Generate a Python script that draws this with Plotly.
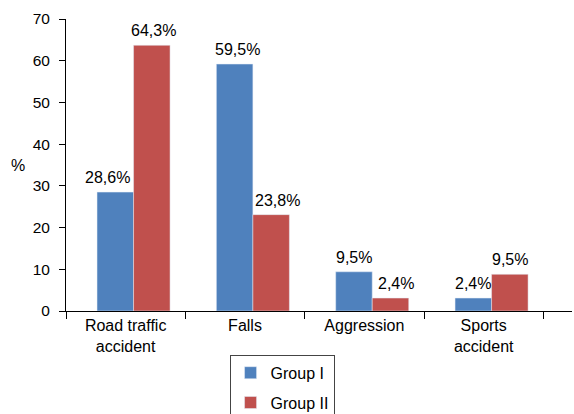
import plotly.graph_objects as go

categories = ["Road traffic<br>accident", "Falls", "Aggression", "Sports<br>accident"]
# bar heights as drawn in the picture
group1 = [28.5, 59.2, 9.4, 3.1]
group2 = [63.7, 23.1, 3.1, 8.8]
# value labels as printed in the picture
labels1 = ["28,6%", "59,5%", "9,5%", "2,4%"]
labels2 = ["64,3%", "23,8%", "2,4%", "9,5%"]
series_names = ["Group I", "Group II"]
yticks = [0, 10, 20, 30, 40, 50, 60, 70]

xpos = list(range(len(categories)))
FAM = "Liberation Sans, Arial, sans-serif"
font = dict(family=FAM, size=16, color="#000")
yfont = dict(family=FAM, size=15.5, color="#000")

BAR_W = 0.306
OFFS = [-0.24, 0.066]
COLORS = ["#4F81BD", "#C0504D"]
LABEL_DX = [[-8, 3, 0, 0], [2, 6, 6, 0]]

fig = go.Figure()
annotations = []
for k, (vals, labs) in enumerate([(group1, labels1), (group2, labels2)]):
    fig.add_trace(go.Bar(
        x=xpos, y=vals, name=series_names[k], marker_color=COLORS[k],
        width=BAR_W, offset=OFFS[k], legendgroup=str(k),
    ))
    for i, (v, t) in enumerate(zip(vals, labs)):
        annotations.append(dict(
            x=xpos[i] + OFFS[k] + BAR_W / 2, y=v, xref="x", yref="y",
            text=t, showarrow=False, xanchor="center", yanchor="bottom",
            yshift=4, xshift=LABEL_DX[k][i], font=font,
        ))

annotations.append(dict(
    text="%", xref="paper", yref="paper", x=-0.095, y=0.5,
    xanchor="center", yanchor="middle", showarrow=False, font=font,
))

fig.update_layout(
    width=574, height=414,
    margin=dict(l=66, r=2, t=19, b=103, autoexpand=False),
    plot_bgcolor="white", paper_bgcolor="white",
    font=font,
    showlegend=True,
    legend=dict(
        x=0.427, y=-0.15, xanchor="center", yanchor="top",
        bordercolor="#444", borderwidth=1,
        font=font, tracegroupgap=6, traceorder="grouped",
    ),
    xaxis=dict(
        range=[-0.5, 3.74], tickmode="array", tickvals=xpos, ticktext=categories,
        ticks="", showline=True, linecolor="#000", linewidth=1,
        showgrid=False, zeroline=False, tickfont=font, automargin=False,
        minor=dict(tickmode="array", tickvals=[-0.5, 0.5, 1.5, 2.5, 3.5],
                   ticks="outside", ticklen=7, tickcolor="#000", tickwidth=1,
                   showgrid=False),
    ),
    yaxis=dict(
        range=[0, 70], tickmode="array", tickvals=yticks,
        ticks="outside", ticklen=6, tickcolor="#000",
        showline=True, linecolor="#000", linewidth=1,
        showgrid=False, zeroline=False, tickfont=yfont, automargin=False,
        ticklabelstandoff=6,
    ),
    annotations=annotations,
)

fig.write_html("out.html")
